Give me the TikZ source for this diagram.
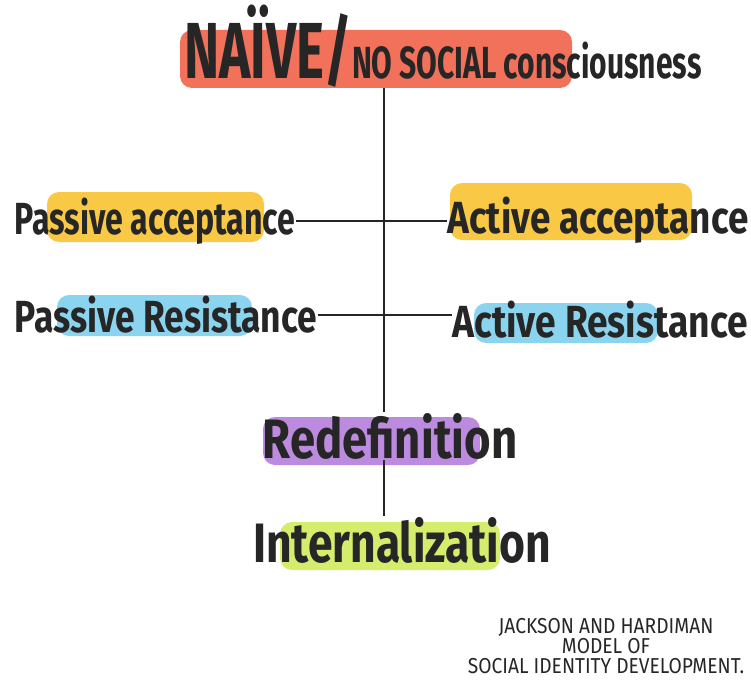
\documentclass[tikz,border=0pt]{standalone}
\usepackage{fontspec}
\newfontfamily\handfont{Fira Sans}
\definecolor{ink}{RGB}{38,38,38}
\definecolor{washred}{RGB}{238,88,62}
\definecolor{washyellow}{RGB}{248,190,35}
\definecolor{washblue}{RGB}{118,205,236}
\definecolor{washpurple}{RGB}{176,118,216}
\definecolor{washgreen}{RGB}{206,234,82}
\begin{document}
\begin{tikzpicture}[x=1pt,y=1pt,line width=1.1pt]

\tikzset{hand/.style={font=\handfont\bfseries\fontsize{30}{30}\selectfont, text=ink, inner sep=0pt, transform shape, yscale=1.5},
big/.style={font=\handfont\bfseries\fontsize{37}{37}\selectfont},
wash/.style={rounded corners=12pt, opacity=0.85},
%small pen text in the corner
note/.style={font=\handfont\fontsize{16}{15}\selectfont, text=ink, align=center, inner sep=0pt, transform shape, yscale=1.35, xscale=1.2}}

\useasboundingbox (0,0) rectangle (751,-679);

\fill[washred,wash] (180,-30) rectangle (572,-88);
\fill[washyellow,wash] (47,-192) rectangle (264,-242);
\fill[washyellow,wash] (450,-183) rectangle (692,-240);
\fill[washblue,wash] (57,-295) rectangle (252,-336);
\fill[washblue,wash] (474,-303) rectangle (658,-343);
\fill[washpurple,wash] (263,-417) rectangle (480,-465);
\fill[washgreen,wash] (280,-522) rectangle (500,-570);

\node[hand] (title) at (443,-46) {{\fontsize{53}{53}\selectfont NAÏVE/}NO SOCIAL consciousness};
\node[hand,xscale=1.07] (pacc) at (155,-221) {Passive acceptance};
\node[hand,xscale=1.23] (aacc) at (598,-220) {Active acceptance};
\node[hand,xscale=1.18] (pres) at (166,-315) {Passive Resistance};
\node[hand,xscale=1.24] (ares) at (600,-320) {Active Resistance};
\node[hand,big,xscale=1.23] (redef) at (390,-436) {Redefinition};
\node[hand,big,xscale=1.2] (intern) at (402,-540) {Internalization};

\node[note] (source) at (606,-646) {JACKSON AND HARDIMAN\\MODEL OF\hspace*{34pt}\\SOCIAL IDENTITY DEVELOPMENT.};

\coordinate (spine) at (384,0);

\draw[ink] (title.south -| spine) -- (redef.north -| spine);
\draw[ink] (redef.south -| spine) -- (intern.north -| spine);
\draw[ink] (pacc.east) -- (pacc.east -| aacc.west);
\draw[ink] (pres.east) -- (pres.east -| ares.west);

\end{tikzpicture}
\end{document}
